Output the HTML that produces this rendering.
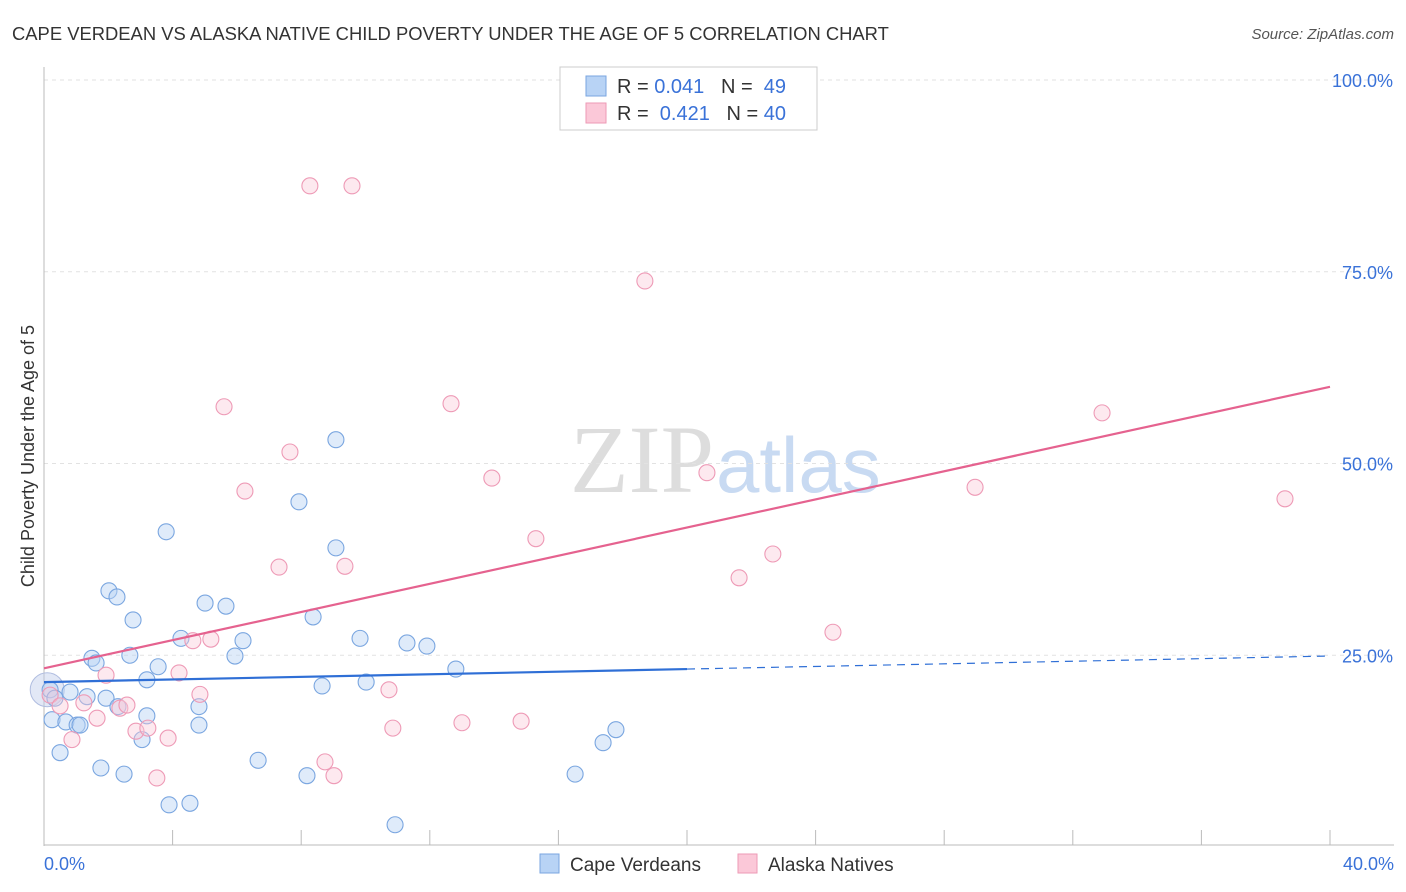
<!DOCTYPE html>
<html><head><meta charset="utf-8"><style>
body{margin:0;background:#fff;font-family:"Liberation Sans",sans-serif;}
svg{display:block}
text{white-space:pre}
</style></head><body>
<svg width="1406" height="892" xmlns="http://www.w3.org/2000/svg">
<text x="12" y="40" font-size="18.4" fill="#333">CAPE VERDEAN VS ALASKA NATIVE CHILD POVERTY UNDER THE AGE OF 5 CORRELATION CHART</text>
<text x="1394" y="39" font-size="15" fill="#555" font-style="italic" text-anchor="end">Source: ZipAtlas.com</text>
<text x="714" y="492" font-size="96" font-family="Liberation Serif,serif" fill="#ddd" text-anchor="end">ZIP</text>
<text x="716" y="492" font-size="78" fill="#c8daf2">atlas</text>
<g id="grid"></g>
<g id="axes"></g>
<g id="marks"></g>
<text transform="translate(34,456) rotate(-90)" font-size="18" fill="#333" text-anchor="middle">Child Poverty Under the Age of 5</text>
<g>
<rect x="560" y="67" width="257" height="63" fill="#fff" stroke="#ccc"/>
<rect x="586" y="76" width="20" height="20" fill="#b8d3f5" stroke="#7aa6e0"/>
<rect x="586" y="103" width="20" height="20" fill="#fbc8d8" stroke="#ee9ab6"/>
<text x="617" y="93" font-size="20" fill="#333">R = <tspan fill="#3a72d8">0.041</tspan>   N =  <tspan fill="#3a72d8">49</tspan></text>
<text x="617" y="120" font-size="20" fill="#333">R =  <tspan fill="#3a72d8">0.421</tspan>   N = <tspan fill="#3a72d8">40</tspan></text>
</g>
<g>
<rect x="540" y="854" width="19" height="19" fill="#b8d3f5" stroke="#7aa6e0"/>
<text x="570" y="871" font-size="19" fill="#333">Cape Verdeans</text>
<rect x="738" y="854" width="19" height="19" fill="#fbc8d8" stroke="#ee9ab6"/>
<text x="768" y="871" font-size="19" fill="#333">Alaska Natives</text>
</g>
</svg>
<script>
const blueX=[0.19,0.25,0.34,0.50,0.68,0.81,1.03,1.12,1.34,1.49,1.62,1.77,1.93,2.02,2.27,2.30,2.49,2.67,2.77,3.05,3.20,3.20,3.55,3.80,3.89,4.26,4.54,4.82,4.82,5.01,5.66,5.94,6.19,6.66,7.93,8.18,8.37,8.65,9.08,9.08,9.83,10.02,10.92,11.29,11.91,12.81,16.52,17.39,17.79];
const blueY=[20.5,16.6,19.4,12.3,16.3,20.2,15.9,15.9,19.6,24.6,24.0,10.3,19.4,33.4,32.6,18.3,9.5,25.0,29.6,14.0,17.1,21.8,23.5,41.1,5.5,27.2,5.7,18.3,15.9,31.8,31.4,24.9,26.9,11.3,45.0,9.3,30.0,21.0,53.1,39.0,27.2,21.5,2.9,26.6,26.2,23.2,9.5,13.6,15.3];
const pinkX=[0.19,0.50,0.87,1.24,1.65,1.93,2.36,2.58,2.86,3.23,3.51,3.86,4.20,4.63,4.85,5.19,5.60,6.25,7.31,7.65,8.27,8.74,9.02,9.36,9.58,10.73,10.85,12.66,13.00,13.93,14.84,15.30,18.69,20.62,21.62,22.67,24.54,28.96,32.91,38.60];
const pinkY=[19.8,18.4,14.0,18.8,16.8,22.4,18.1,18.5,15.1,15.5,9.0,14.2,22.7,26.9,19.9,27.1,57.4,46.4,36.5,51.5,86.2,11.1,9.3,36.6,86.2,20.5,15.5,57.8,16.2,48.1,16.4,40.2,73.8,48.8,35.1,38.2,28.0,46.9,56.6,45.4];
const yTicks=[25,50,75,100];
const yTickLabels=["25.0%","50.0%","75.0%","100.0%"];
const xTicks=[0,4,8,12,16,20,24,28,32,36,40];
const blueTrend=[21.5,24.9];
const pinkTrend=[23.3,60.0];
const NS="http://www.w3.org/2000/svg";
const X=v=>44+v/40*1286, Y=v=>847-v/100*767;
function mk(tag,attrs,parent){const e=document.createElementNS(NS,tag);for(const k in attrs)e.setAttribute(k,attrs[k]);document.getElementById(parent).appendChild(e);return e;}
yTicks.forEach((t,i)=>{
 const g=mk('line',{x1:44,x2:1394,y1:Y(t),y2:Y(t),stroke:'#e2e2e2','stroke-dasharray':'4,4'},'grid');
 
 
 const l=mk('text',{x:1393,y:Y(t)+7,'font-size':18,fill:'#3a72d8','text-anchor':'end'},'axes');
 l.textContent=yTickLabels[i];
 
 
});
let a=mk('line',{x1:44,x2:44,y1:67,y2:846,stroke:'#bbb'},'axes');


a=mk('line',{x1:44,x2:1394,y1:845,y2:845,stroke:'#bbb'},'axes');


xTicks.forEach(t=>{
 const e=mk('line',{x1:X(t),x2:X(t),y1:830,y2:845,stroke:'#bbb'},'axes');
 
 
});
let t0=mk('text',{x:44,y:870,'font-size':18,fill:'#3a72d8'},'axes');t0.textContent='0.0%';


t0=mk('text',{x:1394,y:870,'font-size':18,fill:'#3a72d8','text-anchor':'end'},'axes');t0.textContent='40.0%';


let big=mk('circle',{cx:X(0.1),cy:Y(20.5),r:17,fill:'rgba(190,205,235,0.45)',stroke:'#b0bde0'},'marks');


blueX.forEach((v,i)=>{
 const c=mk('circle',{cx:X(v),cy:Y(blueY[i]),r:8,fill:'rgba(184,211,245,0.45)',stroke:'#7aa6e0','stroke-width':1.1},'marks');
 
 
});
pinkX.forEach((v,i)=>{
 const c=mk('circle',{cx:X(v),cy:Y(pinkY[i]),r:8,fill:'rgba(251,200,216,0.4)',stroke:'#ee9ab6','stroke-width':1.1},'marks');
 
 
});
const bm=blueTrend[0]+(blueTrend[1]-blueTrend[0])*0.5;
let l1=mk('line',{x1:X(0),y1:Y(blueTrend[0]),x2:X(20),y2:Y(bm),stroke:'#2f6fd6','stroke-width':2.2},'marks');


l1=mk('line',{x1:X(20),y1:Y(bm),x2:X(40),y2:Y(blueTrend[1]),stroke:'#2f6fd6','stroke-width':1.2,'stroke-dasharray':'8,6'},'marks');


l1=mk('line',{x1:X(0),y1:Y(pinkTrend[0]),x2:X(40),y2:Y(pinkTrend[1]),stroke:'#e5628f','stroke-width':2.2},'marks');


</script>
</body></html>
